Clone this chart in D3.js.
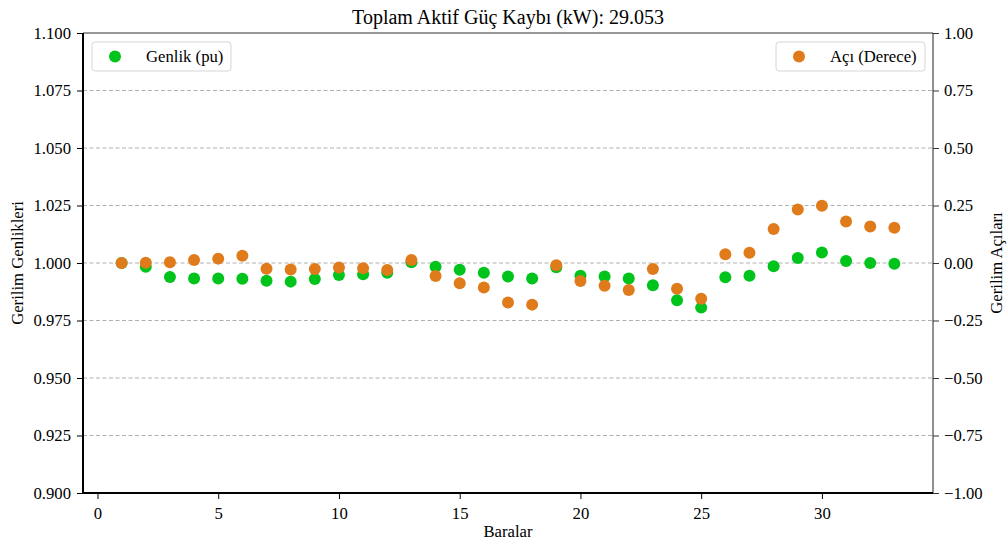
<!DOCTYPE html>
<html><head><meta charset="utf-8">
<script src="https://d3js.org/d3.v7.min.js"></script>
<style>body{margin:0;background:#fff}svg{display:block}text{font-family:"Liberation Serif","Times New Roman",serif;fill:#000}</style>
</head><body>
<script>
const buses = d3.range(1, 34);
const magnitude = [1.0000,0.9984,0.9939,0.9933,0.9933,0.9932,0.9923,0.9919,0.9930,0.9948,0.9951,0.9958,1.0003,0.9984,0.9971,0.9958,0.9941,0.9933,0.9981,0.9945,0.9941,0.9933,0.9903,0.9838,0.9806,0.9938,0.9945,0.9986,1.0022,1.0046,1.0009,1.0000,0.9997];
const angle = [0.000,0.001,0.003,0.013,0.019,0.032,-0.025,-0.028,-0.026,-0.020,-0.023,-0.030,0.013,-0.057,-0.088,-0.107,-0.172,-0.181,-0.010,-0.078,-0.099,-0.117,-0.026,-0.112,-0.155,0.038,0.045,0.148,0.233,0.249,0.180,0.159,0.153];
const xTicks = [0,5,10,15,20,25,30];
const leftTicks = [0.900,0.925,0.950,0.975,1.000,1.025,1.050,1.075,1.100];
const rightTicks = [-1.00,-0.75,-0.50,-0.25,0.00,0.25,0.50,0.75,1.00];
const title = "Toplam Aktif Güç Kaybı (kW): 29.053";
const xLabel = "Baralar", yLeftLabel = "Gerilim Genlikleri", yRightLabel = "Gerilim Açıları";
const legendLeft = "Genlik (pu)", legendRight = "Açı (Derece)";

const W = 1007, H = 544;
const m = {left:83, right:933, top:33, bottom:493};
const green = "#00c41c", orange = "#e07b1c";
const FS = "16.7px";

const svg = d3.select("body").append("svg").attr("width", W).attr("height", H);
const x = d3.scaleLinear().domain([-0.6, 34.6]).range([m.left, m.right]);
const yL = d3.scaleLinear().domain([0.9, 1.1]).range([m.bottom, m.top]);
const yR = d3.scaleLinear().domain([-1, 1]).range([m.bottom, m.top]);

// grid
svg.append("g").selectAll("line").data(leftTicks.slice(1,-1)).join("line")
  .attr("x1", m.left).attr("x2", m.right)
  .attr("y1", d => yL(d)).attr("y2", d => yL(d))
  .attr("stroke", "#b0b0b0").attr("stroke-width", 1).attr("stroke-dasharray", "4,2.5");

// points
svg.append("g").selectAll("circle").data(buses).join("circle")
  .attr("cx", (d) => x(d)).attr("cy", (d,i) => yL(magnitude[i])).attr("r", 6).attr("fill", green);
svg.append("g").selectAll("circle").data(buses).join("circle")
  .attr("cx", (d) => x(d)).attr("cy", (d,i) => yR(angle[i])).attr("r", 6).attr("fill", orange);

// axes
const fmt3 = d3.format(".3f");
const gL = svg.append("g").attr("transform", `translate(${m.left},0)`)
  .call(d3.axisLeft(yL).tickValues(leftTicks).tickFormat(fmt3).tickSize(6).tickPadding(6));
const gR = svg.append("g").attr("transform", `translate(${m.right},0)`)
  .call(d3.axisRight(yR).tickValues(rightTicks).tickFormat(d => d3.format(".2f")(d).replace("-", "\u2212")).tickSize(6).tickPadding(5));
const gB = svg.append("g").attr("transform", `translate(0,${m.bottom})`)
  .call(d3.axisBottom(x).tickValues(xTicks).tickFormat(d3.format("d")).tickSize(6).tickPadding(8));
[gL,gR,gB].forEach(g => {
  g.selectAll("text").style("font-family", '"Liberation Serif",serif').style("font-size", FS).attr("fill", "#000");
  g.select(".domain").remove();
  g.selectAll(".tick line").attr("stroke", "#000");
});
gR.selectAll(".tick line").attr("stroke", "#333");
// spines
svg.append("line").attr("x1", m.left).attr("x2", m.right).attr("y1", m.top).attr("y2", m.top).attr("stroke", "#333").attr("stroke-width", 1);
svg.append("line").attr("x1", m.right).attr("x2", m.right).attr("y1", m.top).attr("y2", m.bottom).attr("stroke", "#222").attr("stroke-width", 1);
svg.append("line").attr("x1", m.left).attr("x2", m.left).attr("y1", m.top).attr("y2", m.bottom+1).attr("stroke", "#000").attr("stroke-width", 2);
svg.append("line").attr("x1", m.left-1).attr("x2", m.right).attr("y1", m.bottom).attr("y2", m.bottom).attr("stroke", "#000").attr("stroke-width", 2);

// labels
svg.append("text").attr("x", (m.left+m.right)/2).attr("y", 24).attr("text-anchor", "middle").style("font-size", "20px").text(title);
svg.append("text").attr("x", (m.left+m.right)/2).attr("y", 537).attr("text-anchor", "middle").style("font-size", FS).text(xLabel);
svg.append("text").attr("transform", `translate(23,${(m.top+m.bottom)/2}) rotate(-90)`).attr("text-anchor", "middle").style("font-size", FS).text(yLeftLabel);
svg.append("text").attr("transform", `translate(1002,${(m.top+m.bottom)/2}) rotate(-90)`).attr("text-anchor", "middle").style("font-size", FS).text(yRightLabel);

// legends
function legend(x0, x1, color, label, mx, tx) {
  const g = svg.append("g");
  g.append("rect").attr("x", x0).attr("y", 42).attr("width", x1-x0).attr("height", 29).attr("rx", 3)
    .attr("fill", "#fff").attr("fill-opacity", 0.8).attr("stroke", "#d6d6d6");
  g.append("circle").attr("cx", mx).attr("cy", 56.5).attr("r", 6).attr("fill", color);
  g.append("text").attr("x", tx).attr("y", 62).style("font-size", FS).text(label);
}
legend(92, 231, green, legendLeft, 115, 146);
legend(776, 925, orange, legendRight, 799, 830);
</script>
</body></html>
